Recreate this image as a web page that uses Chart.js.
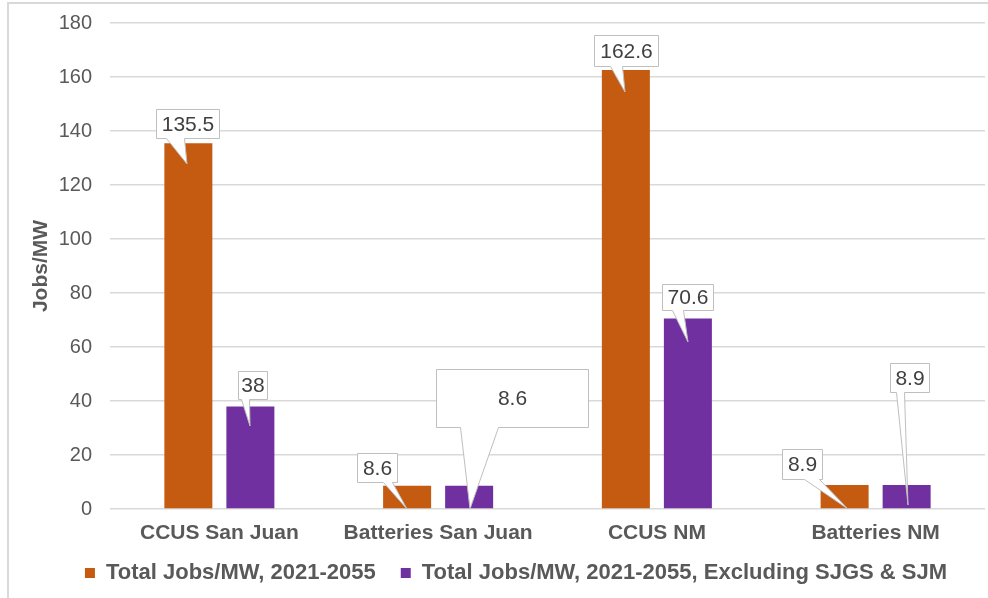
<!DOCTYPE html>
<html>
<head>
<meta charset="utf-8">
<script src="https://cdn.jsdelivr.net/npm/chart.js@4.4.1/dist/chart.umd.min.js"></script>
<style>
  html, body { margin: 0; padding: 0; background: #fff; }
  #wrap { width: 988px; height: 598px; }
</style>
</head>
<body>
<div id="wrap"><canvas id="jobsChart" width="988" height="598"></canvas></div>
<script>
const categories = ['CCUS San Juan', 'Batteries San Juan', 'CCUS NM', 'Batteries NM'];
const seriesNames = ['Total Jobs/MW, 2021-2055', 'Total Jobs/MW, 2021-2055, Excluding SJGS & SJM'];
const totalJobs = [135.5, 8.6, 162.6, 8.9];
const totalJobsExcl = [38, 8.6, 70.6, 8.9];
const yTicks = [0, 20, 40, 60, 80, 100, 120, 140, 160, 180];

const FONT = '"Liberation Sans", Arial, sans-serif';
const GREY_TEXT = '#595959';

// callout box placement, relative to the top centre of each bar:
// [boxLeft, boxTop, boxWidth, boxHeight, tailBaseLeft, tailBaseRight, tipX, tipY]
const calloutStyle = [
  [
    [-32, -34, 63, 29, -22, -4, -1, 21],
    [-50, -33, 40, 29, -24, -15, 0, 23],
    [-32, -35, 64, 31, -16, -4, -1, 22],
    [-63, -36, 40, 30, -41, -26, 3, 24]
  ],
  [
    [-12, -35, 29, 28, -9, -1, 0, 20],
    [-33, -117, 152, 58, -9, 29, 1, 23],
    [-26, -34, 51, 26, -16, -5, 0, 24],
    [-17, -122, 39, 29, -11, -3, 1, 20]
  ]
];

// light frame round the chart, like the source slide
const framePlugin = {
  id: 'frame',
  beforeDraw(chart) {
    const ctx = chart.ctx;
    ctx.save();
    ctx.fillStyle = '#fff';
    ctx.fillRect(0, 0, chart.width, chart.height);
    ctx.strokeStyle = '#d9d9d9';
    ctx.lineWidth = 2;
    ctx.strokeRect(8, 3, chart.width + 20, chart.height + 20);
    ctx.restore();
  }
};

// pull the legend up closer to the category labels (bottom stays so nothing is clipped)
const legendShift = {
  id: 'legendShift',
  afterLayout(chart) {
    if (chart.legend) chart.legend.top -= 8;
  }
};

const calloutPlugin = {
  id: 'callouts',
  afterDatasetsDraw(chart) {
    const ctx = chart.ctx;
    chart.data.datasets.forEach((ds, di) => {
      chart.getDatasetMeta(di).data.forEach((bar, i) => {
        const [bl, bt, bw, bh, tl, tr, tx, ty] = calloutStyle[di][i];
        const cx = Math.round(bar.x), top = Math.round(bar.y);
        const x0 = cx + bl + 0.5, y0 = top + bt + 0.5;
        const x1 = x0 + bw, y1 = y0 + bh;
        ctx.save();
        ctx.beginPath();
        ctx.moveTo(x0, y0);
        ctx.lineTo(x1, y0);
        ctx.lineTo(x1, y1);
        ctx.lineTo(cx + tr + 0.5, y1);
        ctx.lineTo(cx + tx, top + ty);
        ctx.lineTo(cx + tl + 0.5, y1);
        ctx.lineTo(x0, y1);
        ctx.closePath();
        ctx.fillStyle = '#fff';
        ctx.fill();
        ctx.strokeStyle = '#bfbfbf';
        ctx.lineWidth = 1;
        ctx.stroke();
        ctx.fillStyle = '#404040';
        ctx.font = '21px ' + FONT;
        ctx.textAlign = 'center';
        ctx.textBaseline = 'middle';
        ctx.fillText(String(ds.data[i]), (x0 + x1) / 2, (y0 + y1) / 2 + 1);
        ctx.restore();
      });
    });
  }
};

const ctx = document.getElementById('jobsChart').getContext('2d');
new Chart(ctx, {
  type: 'bar',
  data: {
    labels: categories,
    datasets: [
      {
        label: seriesNames[0],
        data: totalJobs,
        backgroundColor: '#C55A11',
        categoryPercentage: 0.567,
        barPercentage: 0.774
      },
      {
        label: seriesNames[1],
        data: totalJobsExcl,
        backgroundColor: '#7030A0',
        categoryPercentage: 0.567,
        barPercentage: 0.774
      }
    ]
  },
  options: {
    responsive: false,
    animation: false,
    layout: { padding: { left: 47, right: 3, top: 23, bottom: 5 } },
    plugins: {
      tooltip: { enabled: false },
      legend: {
        position: 'bottom',
        maxHeight: 48,
        labels: {
          boxWidth: 10,
          boxHeight: 10,
          padding: 25,
          color: GREY_TEXT,
          font: { family: FONT, size: 22, weight: 'bold' }
        }
      }
    },
    scales: {
      x: {
        grid: { display: false, drawTicks: false },
        border: { display: false },
        ticks: {
          color: GREY_TEXT,
          padding: 12,
          font: { family: FONT, size: 21, weight: 'bold' }
        },
        afterFit: s => { s.height = 36; }
      },
      y: {
        min: 0,
        max: 180,
        border: { display: false },
        grid: { color: '#d9d9d9', lineWidth: 1.5, drawTicks: false },
        afterBuildTicks: s => { s.ticks = yTicks.map(v => ({ value: v })); },
        ticks: {
          color: GREY_TEXT,
          padding: 18,
          font: { family: FONT, size: 20 }
        },
        title: {
          display: true,
          text: 'Jobs/MW',
          color: GREY_TEXT,
          padding: { top: -18, bottom: 0 },
          font: { family: FONT, size: 21, weight: 'bold' }
        },
        afterFit: s => {
          s.width = 63;
          s.paddingTop = 0;
        }
      }
    }
  },
  plugins: [framePlugin, legendShift, calloutPlugin]
});
</script>
</body>
</html>
